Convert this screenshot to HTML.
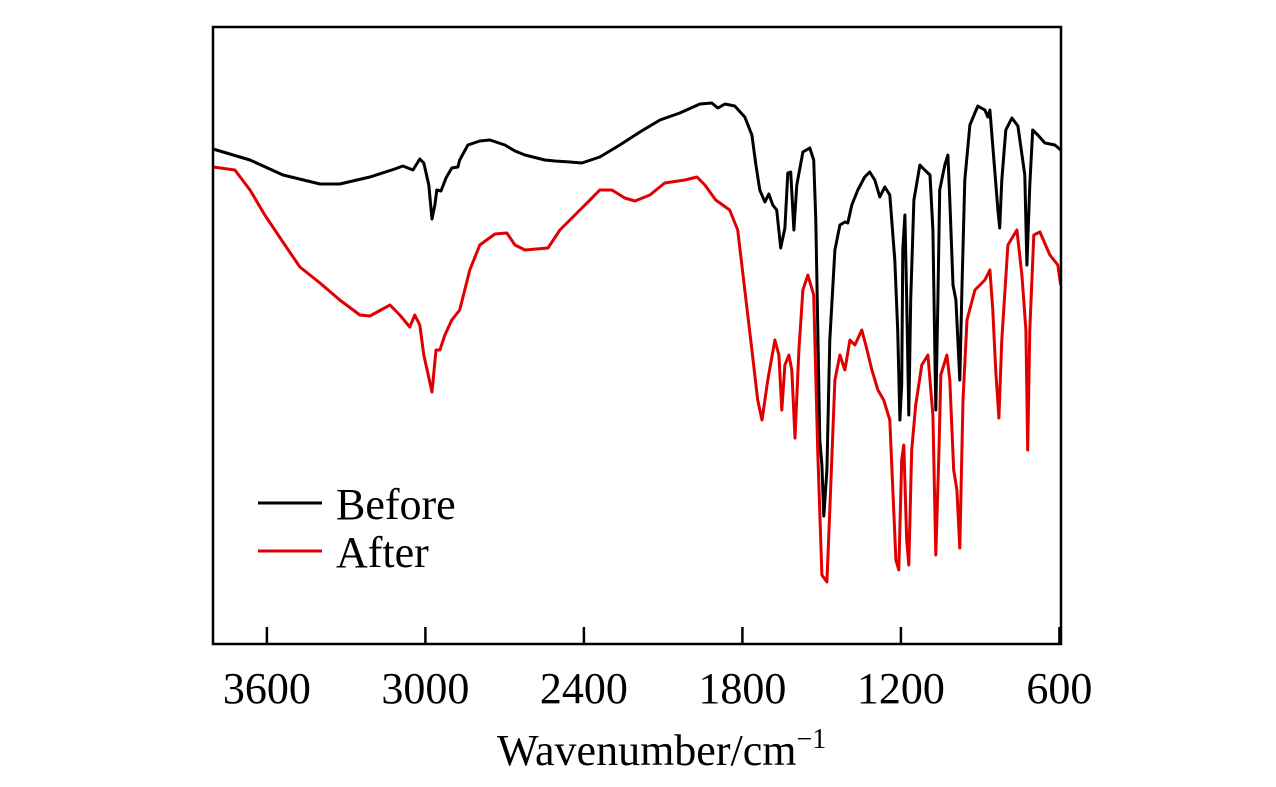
<!DOCTYPE html>
<html><head><meta charset="utf-8"><style>
html,body{margin:0;padding:0;background:#fff;}
svg{display:block;font-family:"Liberation Serif",serif;}
</style></head><body>
<svg id="chart" width="1276" height="787" viewBox="0 0 1276 787" xmlns="http://www.w3.org/2000/svg">
<g id="series"></g>
<rect x="213" y="27" width="848" height="617" fill="none" stroke="#000" stroke-width="2.5"/>
<g id="ticks"></g>
<text x="497" y="765" font-size="44" fill="#000">Wavenumber/cm<tspan font-size="28" dy="-17">−1</tspan></text>
<g>
<line x1="258" y1="503" x2="322" y2="503" stroke="#000" stroke-width="3"/>
<text x="336" y="519" font-size="44" fill="#000">Before</text>
<line x1="258" y1="551" x2="322" y2="551" stroke="#e00000" stroke-width="3"/>
<text x="336" y="567" font-size="44" fill="#000">After</text>
</g>
</svg>
<script>
const tickValues = [3600, 3000, 2400, 1800, 1200, 600];
const tickLabels = ["3600", "3000", "2400", "1800", "1200", "600"];
const beforeWn = [3804,3664,3539,3399,3324,3210,3116,3085,3047,3021,3006,2987,2975,2964,2957,2941,2922,2900,2877,2870,2839,2794,2756,2699,2661,2623,2548,2510,2453,2408,2340,2264,2188,2112,2037,1961,1916,1893,1866,1829,1791,1764,1749,1734,1715,1700,1685,1670,1655,1639,1628,1617,1605,1594,1571,1545,1530,1522,1507,1499,1492,1480,1469,1450,1431,1412,1401,1386,1363,1337,1318,1299,1280,1261,1242,1223,1212,1204,1197,1193,1185,1178,1170,1163,1151,1128,1110,1090,1079,1068,1060,1053,1034,1022,1015,1003,992,977,969,958,939,909,882,871,863,848,833,826,818,803,780,757,731,723,712,701,682,655,617,595];
const beforeT = [495,484,469,460,460,467,475,478,474,485,481,459,425,439,454,453,466,476,477,484,499,503,504,499,493,489,484,483,482,481,487,499,512,524,531,540,541,536,540,538,527,509,479,454,442,450,439,434,396,416,471,472,414,459,492,496,484,424,204,179,128,174,304,394,419,422,421,439,454,467,472,464,447,457,449,384,314,224,259,394,429,344,229,344,444,479,474,469,414,234,344,454,479,489,444,359,344,264,354,464,519,538,534,527,534,484,434,416,464,514,526,518,469,379,459,514,509,501,499,494];
const afterWn = [3804,3721,3664,3608,3532,3475,3399,3324,3248,3210,3134,3097,3059,3040,3021,3006,2975,2960,2945,2926,2900,2870,2832,2794,2737,2692,2661,2623,2536,2491,2415,2377,2340,2294,2245,2207,2150,2094,2018,1972,1942,1901,1848,1818,1791,1764,1742,1726,1704,1677,1662,1651,1639,1624,1613,1601,1586,1571,1552,1530,1515,1499,1480,1469,1450,1431,1412,1393,1374,1348,1333,1310,1287,1265,1242,1219,1208,1197,1189,1178,1170,1159,1144,1121,1098,1079,1068,1056,1049,1026,1015,1000,988,977,965,950,920,882,863,852,841,829,818,795,761,742,727,720,712,697,674,636,606,595];
const afterT = [477,474,454,429,399,377,361,344,329,328,339,329,317,329,319,289,252,294,294,309,324,334,374,399,410,411,399,394,396,414,434,444,454,454,446,443,449,461,464,467,459,444,434,414,354,294,244,224,264,304,289,234,279,289,274,206,294,354,369,349,194,69,62,134,264,289,274,304,299,314,299,274,254,244,224,84,74,184,199,104,79,194,239,279,289,229,89,194,269,289,264,174,154,96,244,324,354,364,374,334,274,226,304,399,414,369,314,194,314,409,412,389,379,359];

const NS = "http://www.w3.org/2000/svg";
const X0 = 213, X1 = 1061, Y0 = 27, Y1 = 644;
const WN_LEFT = 3804, WN_RIGHT = 594;
const T_MIN = 0, T_MAX = 617;
function xScale(wn){ return X0 + (WN_LEFT - wn) / (WN_LEFT - WN_RIGHT) * (X1 - X0); }
function yScale(t){ return Y1 - (t - T_MIN) / (T_MAX - T_MIN) * (Y1 - Y0); }

const series = document.getElementById('series');
function drawLine(wn, t, color, name){
  let d = '';
  for (let i = 0; i < wn.length; i++) d += (i ? 'L' : 'M') + xScale(wn[i]).toFixed(1) + ',' + yScale(t[i]).toFixed(1);
  const p = document.createElementNS(NS, 'path');
  p.setAttribute('d', d);
  p.setAttribute('fill', 'none');
  p.setAttribute('stroke', color);
  p.setAttribute('stroke-width', '3');
  p.setAttribute('stroke-linejoin', 'round');
  
  
  series.appendChild(p);
}
drawLine(beforeWn, beforeT, '#000', 'before-spectrum');
drawLine(afterWn, afterT, '#e00000', 'after-spectrum');

const ticks = document.getElementById('ticks');
for (let i = 0; i < tickValues.length; i++) {
  const x = xScale(tickValues[i]);
  const l = document.createElementNS(NS, 'line');
  l.setAttribute('x1', x); l.setAttribute('x2', x);
  l.setAttribute('y1', Y1); l.setAttribute('y2', Y1 - 17);
  l.setAttribute('stroke', '#000'); l.setAttribute('stroke-width', '2.5');
  
  
  ticks.appendChild(l);
  const tx = document.createElementNS(NS, 'text');
  tx.setAttribute('x', x); tx.setAttribute('y', 703);
  tx.setAttribute('text-anchor', 'middle');
  tx.setAttribute('font-size', '44');
  tx.textContent = tickLabels[i];
  
  
  ticks.appendChild(tx);
}
</script>
</body></html>
